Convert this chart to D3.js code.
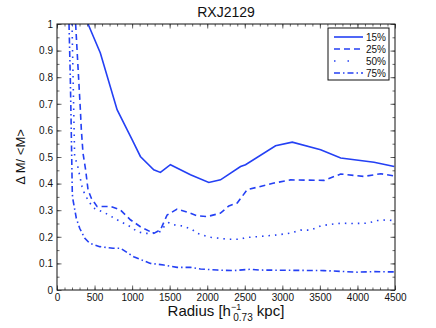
<!DOCTYPE html>
<html>
<head>
<meta charset="utf-8">
<script src="https://cdn.jsdelivr.net/npm/d3@7"></script>
<style>
  body { margin: 0; background: #fff; }
  text { font-family: "Liberation Sans", Arial, sans-serif; fill: #111; }
</style>
</head>
<body>
<div id="chart"></div>
<script>
var w = 436, h = 328;
var margin = {left: 57, right: 41, top: 24, bottom: 38};
var blue = "#2440f4";

var xTicks = [0, 500, 1000, 1500, 2000, 2500, 3000, 3500, 4000, 4500];
var yTicks = [0, 0.1, 0.2, 0.3, 0.4, 0.5, 0.6, 0.7, 0.8, 0.9, 1];

var seriesNames = ["15%", "25%", "50%", "75%"];
var dashes = [null, "6,4", "1.5,5", "6,3,1.5,3"];

var r15 = [413, 577, 800, 933, 1000, 1110, 1288, 1377, 1510, 1644, 1777, 2021, 2177, 2444, 2510, 2910, 3132, 3510, 3777, 4221, 4490];
var v15 = [1.0, 0.891, 0.678, 0.603, 0.565, 0.502, 0.452, 0.442, 0.471, 0.452, 0.433, 0.404, 0.414, 0.464, 0.471, 0.542, 0.556, 0.527, 0.496, 0.48, 0.464];

var r25 = [248, 311, 324, 346, 381, 413, 457, 533, 711, 844, 977, 1110, 1288, 1377, 1466, 1599, 1733, 1866, 2000, 2177, 2288, 2399, 2532, 2888, 3110, 3554, 3777, 4088, 4310, 4490];
var v25 = [1.0, 0.678, 0.603, 0.515, 0.452, 0.377, 0.345, 0.314, 0.314, 0.301, 0.264, 0.238, 0.213, 0.226, 0.282, 0.304, 0.293, 0.279, 0.276, 0.289, 0.316, 0.327, 0.377, 0.402, 0.414, 0.412, 0.436, 0.427, 0.437, 0.429];

var r50 = [200, 235, 267, 333, 355, 421, 488, 644, 800, 977, 1066, 1155, 1244, 1377, 1444, 1488, 1555, 1666, 1800, 1844, 1933, 2044, 2155, 2266, 2444, 2510, 2688, 2932, 3110, 3243, 3377, 3510, 3621, 3777, 3954, 4132, 4266, 4399, 4490];
var v50 = [1.0, 0.498, 0.477, 0.389, 0.37, 0.333, 0.308, 0.289, 0.264, 0.238, 0.22, 0.213, 0.213, 0.22, 0.245, 0.253, 0.245, 0.241, 0.228, 0.216, 0.207, 0.198, 0.195, 0.191, 0.191, 0.197, 0.201, 0.207, 0.214, 0.225, 0.225, 0.241, 0.246, 0.251, 0.25, 0.251, 0.261, 0.264, 0.26];

var r75 = [160, 177, 187, 204, 213, 257, 302, 368, 435, 568, 746, 844, 1021, 1244, 1421, 1599, 1777, 1910, 2132, 2354, 2577, 2688, 3110, 3554, 3999, 4221, 4490];
var v75 = [1.0, 0.8, 0.648, 0.36, 0.339, 0.27, 0.232, 0.195, 0.176, 0.163, 0.157, 0.157, 0.125, 0.1, 0.094, 0.085, 0.085, 0.079, 0.075, 0.073, 0.078, 0.075, 0.074, 0.073, 0.067, 0.069, 0.068];

var radii = [r15, r25, r50, r75];
var values = [v15, v25, v50, v75];

var svg = d3.select("#chart").append("svg")
  .attr("width", w).attr("height", h);

var xScale = d3.scaleLinear().domain([0, 4500]).range([margin.left, w - margin.right]);
var yScale = d3.scaleLinear().domain([0, 1]).range([h - margin.bottom, margin.top]);

var plotW = w - margin.left - margin.right;
var plotH = h - margin.top - margin.bottom;

svg.append("defs").append("clipPath").attr("id", "clip")
  .append("rect")
  .attr("x", margin.left).attr("y", margin.top)
  .attr("width", plotW).attr("height", plotH);

// minor + major ticks, inside, on all four sides
var xMinor = d3.range(0, 4501, 100);
var yMinor = d3.range(0, 1.001, 0.05);

function tickGroup(axisFn, scale, values, size, transform) {
  svg.append("g")
    .attr("transform", transform)
    .call(axisFn(scale).tickValues(values).tickSize(size).tickFormat(""))
    .call(function(g) { g.select(".domain").remove(); })
    .selectAll("line").attr("stroke", "#444").attr("stroke-width", 0.8);
}

tickGroup(d3.axisTop, xScale, xMinor, 2.5, "translate(0," + (h - margin.bottom) + ")");
tickGroup(d3.axisBottom, xScale, xMinor, 2.5, "translate(0," + margin.top + ")");
tickGroup(d3.axisRight, yScale, yMinor, 2.5, "translate(" + margin.left + ",0)");
tickGroup(d3.axisLeft, yScale, yMinor, 2.5, "translate(" + (w - margin.right) + ",0)");
tickGroup(d3.axisTop, xScale, xTicks, 4.5, "translate(0," + (h - margin.bottom) + ")");
tickGroup(d3.axisBottom, xScale, xTicks, 4.5, "translate(0," + margin.top + ")");
tickGroup(d3.axisRight, yScale, yTicks, 4.5, "translate(" + margin.left + ",0)");
tickGroup(d3.axisLeft, yScale, yTicks, 4.5, "translate(" + (w - margin.right) + ",0)");

// tick labels
var xAxis = d3.axisBottom(xScale).tickValues(xTicks).tickSize(0).tickPadding(4).tickFormat(d3.format("d"));
svg.append("g")
  .attr("transform", "translate(0," + (h - margin.bottom) + ")")
  .call(xAxis)
  .call(function(g) { g.select(".domain").remove(); })
  .selectAll("text").style("font-size", "10px");

var yAxis = d3.axisLeft(yScale).tickValues(yTicks).tickSize(0).tickPadding(4).tickFormat(function(d) { return d3.format("~g")(d); });
svg.append("g")
  .attr("transform", "translate(" + margin.left + ",0)")
  .call(yAxis)
  .call(function(g) { g.select(".domain").remove(); })
  .selectAll("text").style("font-size", "10px");

// series
var line = d3.line()
  .x(function(d) { return xScale(d[0]); })
  .y(function(d) { return yScale(d[1]); });

var plot = svg.append("g").attr("clip-path", "url(#clip)");
radii.forEach(function(r, i) {
  var pts = r.map(function(x, j) { return [x, values[i][j]]; });
  plot.append("path")
    .datum(pts)
    .attr("fill", "none")
    .attr("stroke", blue)
    .attr("stroke-width", 1.6)
    .attr("stroke-dasharray", dashes[i])
    .attr("d", line);
});

// frame
svg.append("rect")
  .attr("x", margin.left).attr("y", margin.top)
  .attr("width", plotW).attr("height", plotH)
  .attr("fill", "none").attr("stroke", "#111").attr("stroke-width", 1);

// legend
var lg = svg.append("g").attr("transform", "translate(328,28)");
lg.append("rect").attr("width", 61).attr("height", 52)
  .attr("fill", "#fff").attr("stroke", "#111").attr("stroke-width", 1);
seriesNames.forEach(function(name, i) {
  var yy = 9 + i * 12;
  lg.append("line")
    .attr("x1", 6).attr("x2", 35).attr("y1", yy).attr("y2", yy)
    .attr("stroke", blue).attr("stroke-width", 1.6)
    .attr("stroke-dasharray", i === 2 ? "1.5,12,1.5,20" : dashes[i]);
  lg.append("text").attr("x", 38).attr("y", yy + 3.5)
    .style("font-size", "10px").text(name);
});

// title and labels
svg.append("text")
  .attr("x", (margin.left + w - margin.right) / 2).attr("y", 17)
  .attr("text-anchor", "middle").style("font-size", "14px")
  .text("RXJ2129");

var xl = svg.append("text")
  .attr("x", 226).attr("y", 316)
  .attr("text-anchor", "middle").style("font-size", "15px");
xl.append("tspan").text("Radius [h");
xl.append("tspan").attr("dy", -6).style("font-size", "9px").text("\u22121");
xl.append("tspan").attr("dx", -8).attr("dy", 11).style("font-size", "10px").text("0.73");
xl.append("tspan").attr("dy", -5).text(" kpc]");

svg.append("text")
  .attr("transform", "translate(25," + (margin.top + plotH / 2) + ") rotate(-90)")
  .attr("text-anchor", "middle").style("font-size", "13px")
  .text("\u0394 M/ <M>");
</script>
</body>
</html>
